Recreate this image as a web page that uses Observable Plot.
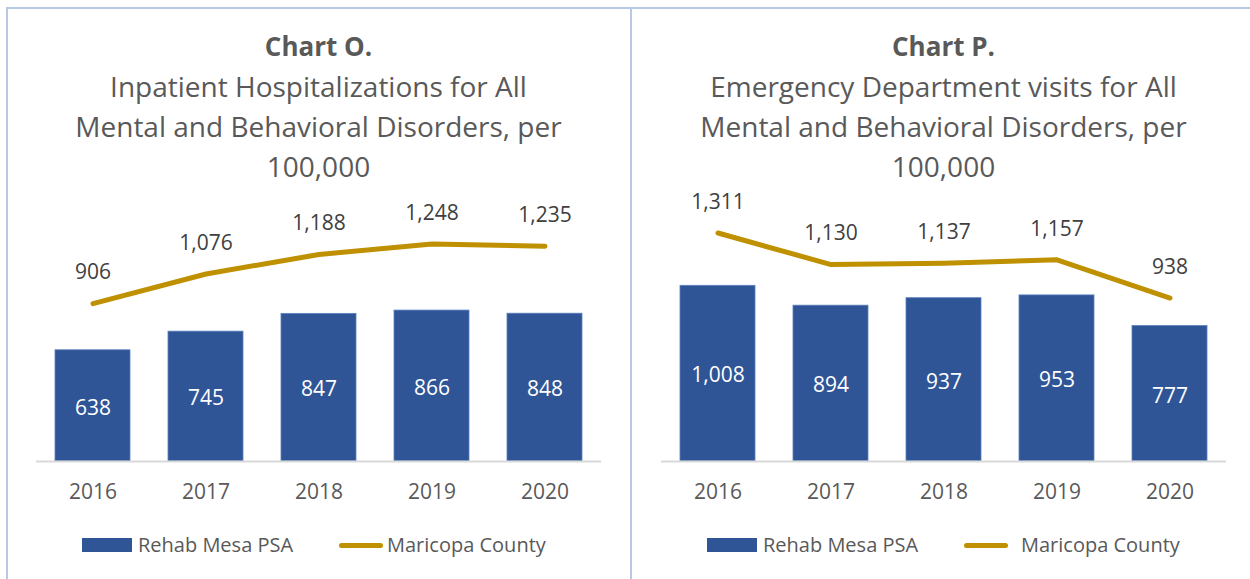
<!DOCTYPE html>
<html>
<head>
<meta charset="utf-8">
<script src="https://cdn.jsdelivr.net/npm/d3@7"></script>
<script src="https://cdn.jsdelivr.net/npm/@observablehq/plot@0.6"></script>
<style>
  html, body { margin: 0; padding: 0; background: #ffffff; }
  #page { position: relative; width: 1250px; height: 579px; overflow: hidden; background: #ffffff; font-family: "Open Sans", "Noto Sans", sans-serif; color: #595959; }
  .hline { position: absolute; background: #b8c9e6; }
  .title { position: absolute; top: 26px; width: 625px; text-align: center; }
  .title div { height: 40px; line-height: 40px; white-space: nowrap; }
  .title .t1 { font-weight: bold; font-size: 26px; }
  .title .t2 { font-size: 28px; }
  .chart { position: absolute; top: 180px; }
  .legend { position: absolute; top: 530px; height: 30px; font-size: 20px; color: #595959; }
  .sw { position: absolute; }
  .lt { position: absolute; top: 0; line-height: 30px; white-space: nowrap; }
</style>
</head>
<body>
<div id="page">
  <div class="hline" style="left:6px; top:7px; width:1250px; height:2px;"></div>
  <div class="hline" style="left:6px; top:7px; width:2px; height:580px;"></div>
  <div class="hline" style="left:630px; top:7px; width:2px; height:580px;"></div>

  <div class="title" style="left:6px;">
    <div class="t1">Chart O.</div>
    <div class="t2">Inpatient Hospitalizations for All</div>
    <div class="t2">Mental and Behavioral Disorders, per</div>
    <div class="t2">100,000</div>
  </div>
  <div class="title" style="left:631px;">
    <div class="t1">Chart P.</div>
    <div class="t2">Emergency Department visits for All</div>
    <div class="t2">Mental and Behavioral Disorders, per</div>
    <div class="t2">100,000</div>
  </div>

  <div class="chart" id="chartO" style="left:0px;"></div>
  <div class="chart" id="chartP" style="left:625px;"></div>

  <div class="legend" style="left:0px; width:625px;">
    <div class="sw" style="left:82px; top:8px; width:50px; height:14px; background:#2f5597;"></div>
    <div class="lt" style="left:138px;">Rehab Mesa PSA</div>
    <div class="sw" style="left:339px; top:13px; width:44px; height:5px; border-radius:3px; background:#bf9000;"></div>
    <div class="lt" style="left:387px;">Maricopa County</div>
  </div>
  <div class="legend" style="left:625px; width:625px;">
    <div class="sw" style="left:82px; top:8px; width:50px; height:14px; background:#2f5597;"></div>
    <div class="lt" style="left:138px;">Rehab Mesa PSA</div>
    <div class="sw" style="left:339px; top:13px; width:44px; height:5px; border-radius:3px; background:#bf9000;"></div>
    <div class="lt" style="left:396px;">Maricopa County</div>
  </div>
</div>
<script>
const years = ["2016", "2017", "2018", "2019", "2020"];
const rehabInpatient = [638, 745, 847, 866, 848];
const maricopaInpatient = [906, 1076, 1188, 1248, 1235];
const rehabED = [1008, 894, 937, 953, 777];
const maricopaED = [1311, 1130, 1137, 1157, 938];

const fmt = d3.format(",");

function makeChart(bars, line) {
  const data = years.map((y, i) => ({year: y, rehab: bars[i], county: line[i]}));
  return Plot.plot({
    width: 625,
    height: 330,
    marginLeft: 36,
    marginRight: 24,
    marginTop: 37,
    marginBottom: 49,
    x: {domain: years, paddingInner: 0.336, paddingOuter: 0.168, label: null, tickSize: 0, tickPadding: 23},
    y: {domain: [0, 1400], axis: null},
    style: {fontFamily: "'Open Sans', 'Noto Sans', sans-serif", fontSize: "21px", color: "#595959", background: "transparent", overflow: "visible"},
    marks: [
      Plot.barY(data, {x: "year", y: "rehab", fill: "#2f5597", stroke: "#5b7fbf", strokeWidth: 0.8}),
      Plot.ruleY([0], {stroke: "#d9d9d9", strokeWidth: 2}),
      Plot.text(data, {x: "year", y: d => d.rehab / 2, text: d => fmt(d.rehab), dy: 2, fill: "white", fontSize: 21}),
      Plot.line(data, {x: "year", y: "county", stroke: "#bf9000", strokeWidth: 5, strokeLinecap: "round", strokeLinejoin: "round"}),
      Plot.text(data, {x: "year", y: "county", text: d => fmt(d.county), dy: -31, fill: "#404040", fontSize: 21})
    ]
  });
}

document.getElementById("chartO").appendChild(makeChart(rehabInpatient, maricopaInpatient));
document.getElementById("chartP").appendChild(makeChart(rehabED, maricopaED));
</script>
</body>
</html>
